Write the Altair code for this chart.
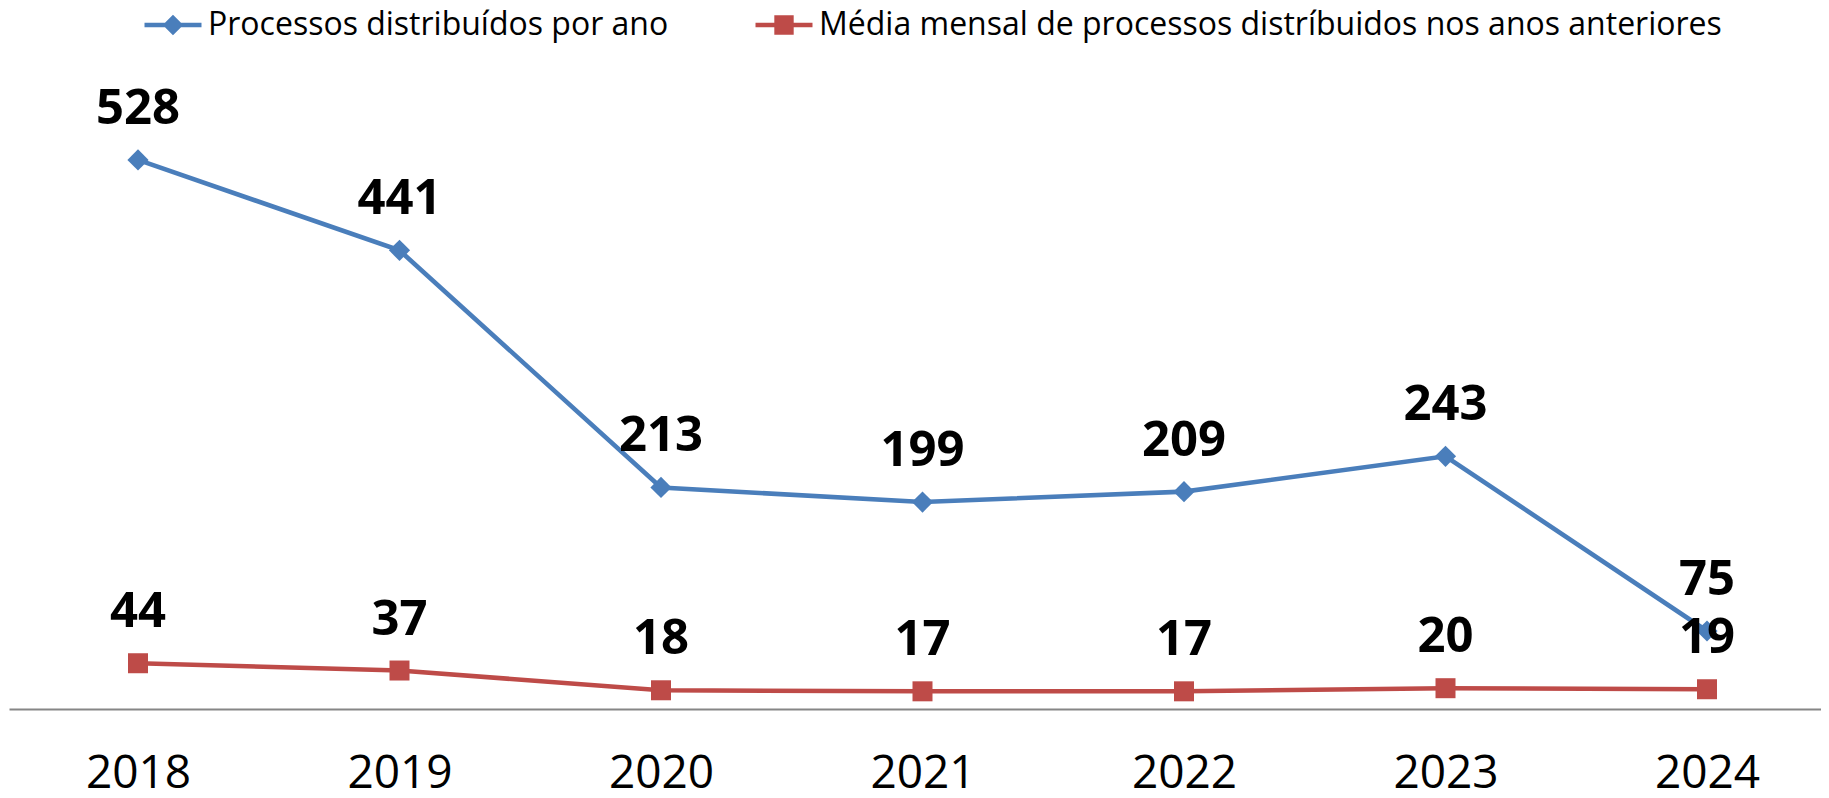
import altair as alt
import pandas as pd

anos = [2018, 2019, 2020, 2021, 2022, 2023, 2024]
serie_azul = "Processos distribuídos por ano"
serie_vermelha = "Média mensal de processos distríbuidos nos anos anteriores"
valores_azul = [528, 441, 213, 199, 209, 243, 75]
valores_vermelho = [44, 37, 18, 17, 17, 20, 19]

AZUL = "#4A7EBB"
VERMELHO = "#BE4B48"
FONT = "Open Sans"

df = pd.DataFrame(
    {"ano": anos * 2,
     "valor": valores_azul + valores_vermelho,
     "serie": [serie_azul] * len(anos) + [serie_vermelha] * len(anos)}
)

W = 1812
step = 261.5
d0 = 2018 - 129 / step
d1 = d0 + W / step

x = alt.X("ano:Q", scale=alt.Scale(domain=[d0, d1], nice=False, zero=False),
          axis=alt.Axis(values=anos, format="d", title=None, grid=False, ticks=False,
                        labelFontSize=46, labelFont=FONT, labelColor="#000000",
                        labelPadding=42, labelFlush=False, domainColor="#868686",
                        domainWidth=2))
y = alt.Y("valor:Q", scale=alt.Scale(domain=[0, 600], nice=False), axis=None)

base = alt.Chart(df)

def series_layers(nome, cor, forma, tamanho):
    d = base.transform_filter(alt.datum.serie == nome)
    line = d.mark_line(color=cor, strokeWidth=4.6).encode(x=x, y=y)
    pts = d.mark_point(shape=forma, filled=True, color=cor, size=tamanho, opacity=1).encode(x=x, y=y)
    txt = d.mark_text(dy=-51, fontSize=49, fontWeight="bold", font=FONT, color="#000000",
                      baseline="middle", align="center").encode(x=x, y=y, text="valor:Q")
    return [line, pts, txt]

# legend symbols: a line with a marker, wider than the nominal symbol box
path_azul = "M-2,-0.15L2,-0.15L2,0.15L-2,0.15Z M-0.72,0L0,-0.72L0.72,0L0,0.72Z"
path_verm = "M-2,-0.15L2,-0.15L2,0.15L-2,0.15Z M-0.68,-0.68L0.68,-0.68L0.68,0.68L-0.68,0.68Z"

leg = dict(title=None, orient="none", legendX=148, legendY=-76,
           direction="horizontal", labelFontSize=32, labelFont=FONT,
           labelColor="#000000", symbolSize=812, symbolOpacity=1,
           symbolStrokeWidth=0, labelOffset=19, columnPadding=86,
           labelLimit=0)

dom = [serie_azul, serie_vermelha]
legend_layer = base.mark_point(filled=True, size=0).encode(
    x=x, y=y,
    color=alt.Color("serie:N", scale=alt.Scale(domain=dom, range=[AZUL, VERMELHO]),
                    legend=alt.Legend(**leg)),
    shape=alt.Shape("serie:N", scale=alt.Scale(domain=dom, range=[path_azul, path_verm]),
                    legend=alt.Legend(**leg)),
)

layers = [legend_layer]
layers += series_layers(serie_azul, AZUL, "diamond", 450)
layers += series_layers(serie_vermelha, VERMELHO, "square", 400)

chart = alt.layer(*layers).properties(
    width=W, height=624,
    background="#ffffff",
    autosize=alt.AutoSizeParams(type="none"),
    padding={"left": 1, "top": 77, "right": 0, "bottom": 81},
).configure_view(stroke=None)

chart.save("out.html", embed_options={"renderer": "svg", "actions": False})
